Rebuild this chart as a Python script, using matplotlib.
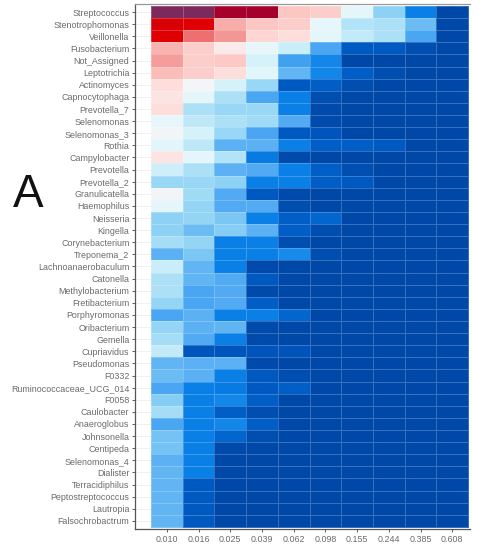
import matplotlib
matplotlib.use("Agg")
import matplotlib.pyplot as plt
import numpy as np
import matplotlib.colors as mlc

# detection thresholds (x) and genera (y, top to bottom)
thresholds = ["0.010", "0.016", "0.025", "0.039", "0.062", "0.098", "0.155", "0.244", "0.385", "0.608"]
genera = ["Streptococcus", "Stenotrophomonas", "Veillonella", "Fusobacterium", "Not_Assigned",
          "Leptotrichia", "Actinomyces", "Capnocytophaga", "Prevotella_7", "Selenomonas",
          "Selenomonas_3", "Rothia", "Campylobacter", "Prevotella", "Prevotella_2",
          "Granulicatella", "Haemophilus", "Neisseria", "Kingella", "Corynebacterium",
          "Treponema_2", "Lachnoanaerobaculum", "Catonella", "Methylobacterium", "Fretibacterium",
          "Porphyromonas", "Oribacterium", "Gemella", "Cupriavidus", "Pseudomonas",
          "F0332", "Ruminococcaceae_UCG_014", "F0058", "Caulobacter", "Anaeroglobus",
          "Johnsonella", "Centipeda", "Selenomonas_4", "Dialister", "Terracidiphilus",
          "Peptostreptococcus", "Lautropia", "Falsochrobactrum"]

# prevalence (one row per genus)
prevalence = np.array([
    [1.00, 1.00, 0.92, 0.92, 0.62, 0.60, 0.43, 0.28, 0.12, 0.00],
    [0.85, 0.84, 0.67, 0.62, 0.60, 0.44, 0.34, 0.33, 0.24, 0.00],
    [0.84, 0.76, 0.71, 0.58, 0.56, 0.43, 0.37, 0.33, 0.20, 0.00],
    [0.66, 0.60, 0.52, 0.44, 0.38, 0.20, 0.06, 0.06, 0.02, 0.00],
    [0.70, 0.60, 0.61, 0.40, 0.19, 0.13, 0.00, 0.00, 0.00, 0.00],
    [0.64, 0.60, 0.56, 0.42, 0.23, 0.13, 0.07, 0.02, 0.00, 0.00],
    [0.56, 0.48, 0.40, 0.30, 0.06, 0.07, 0.02, 0.00, 0.00, 0.00],
    [0.54, 0.43, 0.33, 0.20, 0.12, 0.02, 0.00, 0.00, 0.00, 0.00],
    [0.56, 0.33, 0.30, 0.30, 0.12, 0.01, 0.00, 0.00, 0.00, 0.00],
    [0.44, 0.36, 0.33, 0.31, 0.21, 0.01, 0.00, 0.00, 0.00, 0.00],
    [0.47, 0.40, 0.30, 0.20, 0.06, 0.05, 0.00, 0.00, 0.00, 0.00],
    [0.42, 0.36, 0.22, 0.22, 0.12, 0.07, 0.07, 0.06, 0.00, 0.00],
    [0.54, 0.43, 0.34, 0.11, 0.01, 0.00, 0.00, 0.00, 0.00, 0.00],
    [0.39, 0.33, 0.22, 0.21, 0.12, 0.07, 0.02, 0.00, 0.00, 0.00],
    [0.30, 0.30, 0.28, 0.12, 0.12, 0.07, 0.06, 0.00, 0.00, 0.00],
    [0.47, 0.31, 0.21, 0.06, 0.01, 0.00, 0.00, 0.00, 0.00, 0.00],
    [0.43, 0.29, 0.21, 0.21, 0.02, 0.00, 0.00, 0.00, 0.00, 0.00],
    [0.28, 0.29, 0.26, 0.12, 0.07, 0.08, 0.00, 0.00, 0.00, 0.00],
    [0.28, 0.24, 0.27, 0.22, 0.07, 0.02, 0.00, 0.00, 0.00, 0.00],
    [0.32, 0.29, 0.12, 0.12, 0.02, 0.00, 0.00, 0.00, 0.00, 0.00],
    [0.22, 0.26, 0.12, 0.12, 0.14, 0.02, 0.00, 0.00, 0.00, 0.00],
    [0.38, 0.23, 0.12, 0.01, 0.00, 0.00, 0.00, 0.00, 0.00, 0.00],
    [0.33, 0.23, 0.21, 0.06, 0.00, 0.00, 0.00, 0.00, 0.00, 0.00],
    [0.33, 0.20, 0.21, 0.01, 0.00, 0.00, 0.00, 0.00, 0.00, 0.00],
    [0.29, 0.20, 0.21, 0.07, 0.00, 0.00, 0.00, 0.00, 0.00, 0.00],
    [0.20, 0.22, 0.12, 0.12, 0.08, 0.00, 0.00, 0.00, 0.00, 0.00],
    [0.29, 0.22, 0.23, 0.01, 0.00, 0.00, 0.00, 0.00, 0.00, 0.00],
    [0.32, 0.21, 0.12, 0.01, 0.00, 0.00, 0.00, 0.00, 0.00, 0.00],
    [0.37, 0.05, 0.05, 0.05, 0.04, 0.00, 0.00, 0.00, 0.00, 0.00],
    [0.23, 0.22, 0.22, 0.01, 0.00, 0.00, 0.00, 0.00, 0.00, 0.00],
    [0.24, 0.22, 0.12, 0.06, 0.02, 0.00, 0.00, 0.00, 0.00, 0.00],
    [0.20, 0.12, 0.11, 0.06, 0.07, 0.00, 0.00, 0.00, 0.00, 0.00],
    [0.27, 0.12, 0.13, 0.07, 0.00, 0.00, 0.00, 0.00, 0.00, 0.00],
    [0.32, 0.12, 0.07, 0.02, 0.00, 0.00, 0.00, 0.00, 0.00, 0.00],
    [0.20, 0.12, 0.13, 0.07, 0.00, 0.00, 0.00, 0.00, 0.00, 0.00],
    [0.25, 0.12, 0.08, 0.02, 0.00, 0.00, 0.00, 0.00, 0.00, 0.00],
    [0.25, 0.12, 0.01, 0.00, 0.00, 0.00, 0.00, 0.00, 0.00, 0.00],
    [0.22, 0.12, 0.00, 0.00, 0.00, 0.00, 0.00, 0.00, 0.00, 0.00],
    [0.23, 0.12, 0.00, 0.00, 0.00, 0.00, 0.00, 0.00, 0.00, 0.00],
    [0.23, 0.06, 0.00, 0.00, 0.00, 0.00, 0.00, 0.00, 0.00, 0.00],
    [0.23, 0.06, 0.00, 0.00, 0.00, 0.00, 0.00, 0.00, 0.00, 0.00],
    [0.23, 0.06, 0.00, 0.00, 0.00, 0.00, 0.00, 0.00, 0.00, 0.00],
    [0.23, 0.06, 0.00, 0.00, 0.00, 0.00, 0.00, 0.00, 0.00, 0.00],
])

# blue -> white -> red -> purple gradient
stops = [(0.00, "#0048a8"), (0.06, "#0059c2"), (0.12, "#0a82e8"), (0.20, "#4aa6f2"),
         (0.28, "#8ed2f5"), (0.35, "#b8e6f8"), (0.42, "#e0f6fb"), (0.48, "#f5f5f7"),
         (0.55, "#fde2e0"), (0.62, "#fcc6c2"), (0.70, "#f49f9c"), (0.76, "#ee7070"),
         (0.84, "#e00000"), (0.92, "#a5002b"), (1.00, "#7c2a5c")]
cmap = mlc.LinearSegmentedColormap.from_list("prev", stops)

plt.rcParams['font.family'] = ['Liberation Sans', 'DejaVu Sans']

fig = plt.figure(figsize=(4.79, 5.45), dpi=100)
ax = fig.add_axes([135/479, 16/545, 335/479, 525/545])

ax.set_axisbelow(True)
ax.grid(color="#ebebeb", linewidth=0.5)
ax.pcolormesh(np.arange(len(thresholds)+1)-0.5, np.arange(len(genera)+1)-0.5, prevalence,
              cmap=cmap, vmin=0, vmax=1, edgecolors=(1, 1, 1, 0.22), linewidth=0.5)

ax.set_xticks(np.arange(len(thresholds)), labels=thresholds)
ax.set_yticks(np.arange(len(genera)), labels=genera)
ax.set_xlim(-1.005, 9.56)
ax.set_ylim(42.67, -0.665)
ax.tick_params(labelsize=6.4, labelcolor="#6a6a6a", color="#444444", length=2.5, width=0.6, pad=1.5)

ax.spines["right"].set_visible(False)
for s in ["left", "bottom"]:
    ax.spines[s].set_color("#555555")
    ax.spines[s].set_linewidth(0.9)
ax.spines["top"].set_color("#999999")
ax.spines["top"].set_linewidth(0.9)

fig.text(28.5/479, 1 - 195/545, "A", fontsize=33, ha="center", va="center", color="#111111")

fig.savefig("out.png", dpi=100)
